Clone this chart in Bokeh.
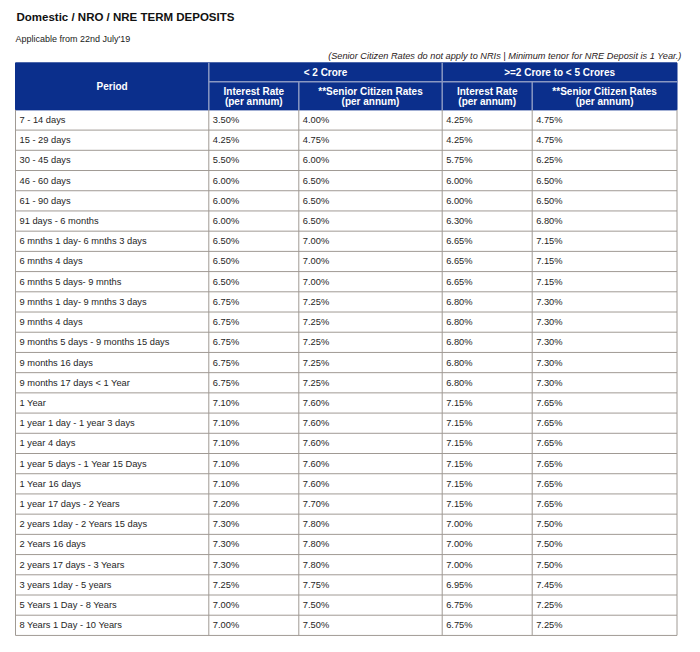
from bokeh.plotting import figure
from bokeh.models import Range1d, ColumnDataSource
from bokeh.core.properties import value
from bokeh.embed import file_html
from bokeh.resources import INLINE

# ---------------- data ----------------
periods = [
    "7 - 14 days", "15 - 29 days", "30 - 45 days", "46 - 60 days", "61 - 90 days",
    "91 days - 6 months", "6 mnths 1 day- 6 mnths 3 days", "6 mnths 4 days",
    "6 mnths 5 days- 9 mnths", "9 mnths 1 day- 9 mnths 3 days", "9 mnths 4 days",
    "9 months 5 days - 9 months 15 days", "9 months 16 days", "9 months 17 days < 1 Year",
    "1 Year", "1 year 1 day - 1 year 3 days", "1 year 4 days",
    "1 year 5 days - 1 Year 15 Days", "1 Year 16 days", "1 year 17 days - 2 Years",
    "2 years 1day - 2 Years 15 days", "2 Years 16 days", "2 years 17 days - 3 Years",
    "3 years 1day - 5 years", "5 Years 1 Day - 8 Years", "8 Years 1 Day - 10 Years",
]
rate_lt2 = [3.50, 4.25, 5.50, 6.00, 6.00, 6.00, 6.50, 6.50, 6.50, 6.75, 6.75, 6.75, 6.75,
            6.75, 7.10, 7.10, 7.10, 7.10, 7.10, 7.20, 7.30, 7.30, 7.30, 7.25, 7.00, 7.00]
senior_lt2 = [4.00, 4.75, 6.00, 6.50, 6.50, 6.50, 7.00, 7.00, 7.00, 7.25, 7.25, 7.25, 7.25,
              7.25, 7.60, 7.60, 7.60, 7.60, 7.60, 7.70, 7.80, 7.80, 7.80, 7.75, 7.50, 7.50]
rate_2to5 = [4.25, 4.25, 5.75, 6.00, 6.00, 6.30, 6.65, 6.65, 6.65, 6.80, 6.80, 6.80, 6.80,
             6.80, 7.15, 7.15, 7.15, 7.15, 7.15, 7.15, 7.00, 7.00, 7.00, 6.95, 6.75, 6.75]
senior_2to5 = [4.75, 4.75, 6.25, 6.50, 6.50, 6.80, 7.15, 7.15, 7.15, 7.30, 7.30, 7.30, 7.30,
               7.30, 7.65, 7.65, 7.65, 7.65, 7.65, 7.65, 7.50, 7.50, 7.50, 7.45, 7.25, 7.25]

title_text = "Domestic / NRO / NRE TERM DEPOSITS"
subtitle_text = "Applicable from 22nd July'19"
note_text = "(Senior Citizen Rates do not apply to NRIs | Minimum tenor for NRE Deposit is 1 Year.)"
period_header = "Period"
group_labels = ["< 2 Crore", ">=2 Crore to < 5 Crores"]
sub_line1 = ["Interest Rate", "**Senior Citizen Rates", "Interest Rate", "**Senior Citizen Rates"]
sub_line2 = ["(per annum)", "(per annum)", "(per annum)", "(per annum)"]

# ---------------- layout ----------------
FONT = value("Liberation Sans")
HDR_BLUE = "#0b2f8c"
HDR_LINE = "#8a98c2"
GRID = "#a09a94"
TXT = "#1e1e1e"

col_edges = [15, 208.3, 298.3, 441.7, 531.7, 676.5]
hdr_top, hdr_mid, hdr_bot = 68.0, 87.0, 115.5
n = len(periods)
row_h = 20.42
tbl_bot = hdr_bot + n * row_h

p = figure(width=684, height=636, x_range=Range1d(0, 684), y_range=Range1d(647.5, 5),
           output_backend="svg", toolbar_location=None, min_border=0,
           background_fill_color="white", border_fill_color="white")
p.axis.visible = False
p.grid.visible = False
p.outline_line_color = None

# header background
p.quad(left=[col_edges[0]], right=[col_edges[-1]], top=[hdr_top], bottom=[hdr_bot],
       fill_color=HDR_BLUE, line_color=HDR_BLUE)

# header separators
hx0 = [col_edges[1], col_edges[1], col_edges[3], col_edges[2], col_edges[4]]
hy0 = [hdr_top, hdr_mid, hdr_top, hdr_mid, hdr_mid]
hx1 = [col_edges[1], col_edges[5], col_edges[3], col_edges[2], col_edges[4]]
hy1 = [hdr_bot, hdr_mid, hdr_bot, hdr_bot, hdr_bot]
p.segment(x0=hx0, y0=hy0, x1=hx1, y1=hy1, line_color=HDR_LINE, line_width=1.5)

# body grid
ys = [hdr_bot + i * row_h for i in range(1, n + 1)]
p.segment(x0=[col_edges[0]] * n, y0=ys, x1=[col_edges[-1]] * n, y1=ys,
          line_color=GRID, line_width=1)
p.segment(x0=col_edges, y0=[hdr_bot] * len(col_edges), x1=col_edges,
          y1=[tbl_bot] * len(col_edges), line_color=GRID, line_width=1)

# titles
p.text(x=[16], y=[22], text=[title_text], text_font=FONT, text_font_style="bold",
       text_font_size=value("11.5px"), text_baseline="middle", text_align="left",
       text_color="#111111")
p.text(x=[15], y=[44], text=[subtitle_text], text_font=FONT,
       text_font_size=value("9px"), text_baseline="middle", text_align="left",
       text_color="#1a1a1a")
p.text(x=[681], y=[61], text=[note_text], text_font=FONT, text_font_style="italic",
       text_font_size=value("9.2px"), text_baseline="middle", text_align="right",
       text_color="#2a1a1a")

# header texts
p.text(x=[(col_edges[0] + col_edges[1]) / 2], y=[92], text=[period_header], text_font=FONT,
       text_font_style="bold", text_font_size=value("10px"), text_baseline="middle",
       text_align="center", text_color="white")
gx = [(col_edges[1] + col_edges[3]) / 2, (col_edges[3] + col_edges[5]) / 2]
p.text(x=gx, y=[77.5, 77.5], text=group_labels, text_font=FONT, text_font_style="bold",
       text_font_size=value("10px"), text_baseline="middle", text_align="center",
       text_color="white")
sx = [(col_edges[i] + col_edges[i + 1]) / 2 for i in range(1, 5)]
p.text(x=sx, y=[96.5] * 4, text=sub_line1, text_font=FONT, text_font_style="bold",
       text_font_size=value("10px"), text_baseline="middle", text_align="center",
       text_color="white")
p.text(x=sx, y=[107] * 4, text=sub_line2, text_font=FONT, text_font_style="bold",
       text_font_size=value("10px"), text_baseline="middle", text_align="center",
       text_color="white")

# body texts
cy = [hdr_bot + (i + 0.5) * row_h for i in range(n)]
fmt = lambda arr: ["%.2f%%" % v for v in arr]
columns = [periods, fmt(rate_lt2), fmt(senior_lt2), fmt(rate_2to5), fmt(senior_2to5)]
for ci, col in enumerate(columns):
    src = ColumnDataSource(dict(x=[col_edges[ci] + 4] * n, y=cy, t=col))
    p.text(x="x", y="y", text="t", source=src, text_font=FONT,
           text_font_size=value("9.3px"), text_baseline="middle", text_align="left",
           text_color=TXT)

open("out.html", "w").write(file_html(p, INLINE))
